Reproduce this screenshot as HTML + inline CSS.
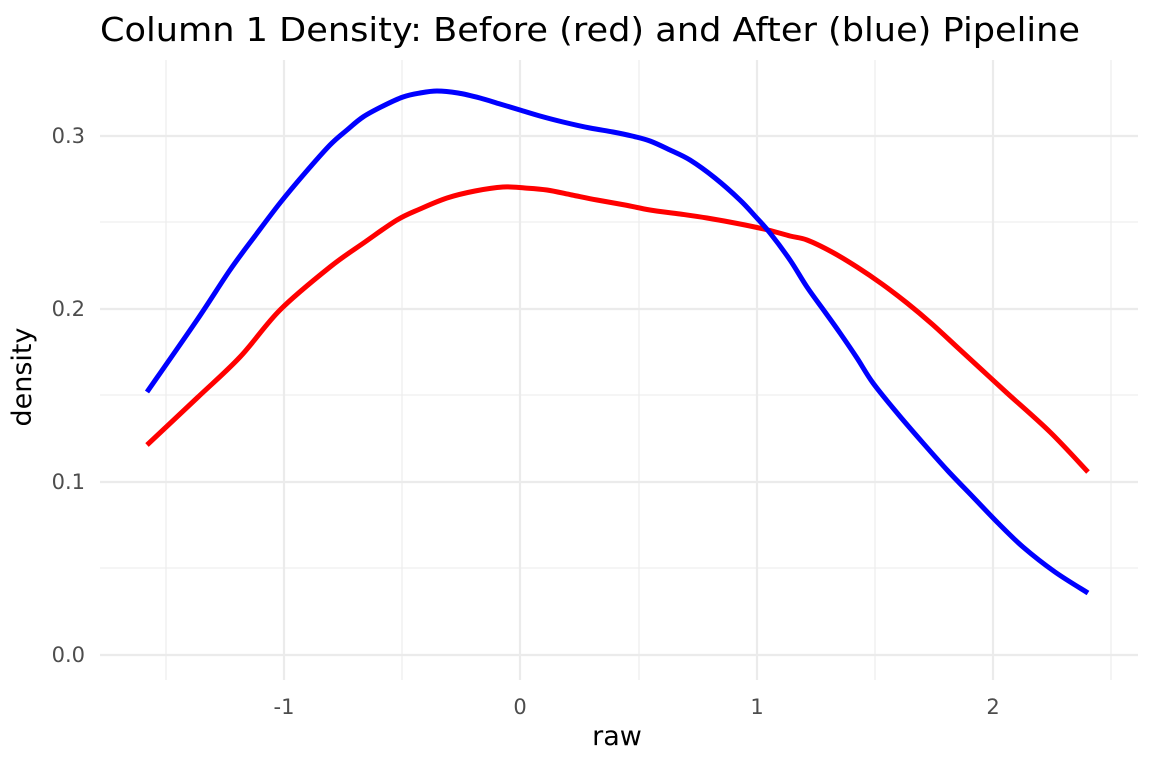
<!DOCTYPE html>
<html><head><style>body{margin:0;background:#fff}svg{display:block}</style></head><body>
<svg width="1152" height="768" xmlns="http://www.w3.org/2000/svg" font-family="DejaVu Sans, sans-serif">
<rect width="1152" height="768" fill="#fff"/>
<g stroke="#ebebeb" stroke-width="1.1">
<line x1="100" x2="1138" y1="568" y2="568"/><line x1="100" x2="1138" y1="395" y2="395"/><line x1="100" x2="1138" y1="222" y2="222"/>
<line x1="166" x2="166" y1="60" y2="680"/><line x1="402" x2="402" y1="60" y2="680"/><line x1="639" x2="639" y1="60" y2="680"/><line x1="875" x2="875" y1="60" y2="680"/><line x1="1111" x2="1111" y1="60" y2="680"/>
</g>
<g stroke="#ebebeb" stroke-width="2.2">
<line x1="100" x2="1138" y1="655" y2="655"/><line x1="100" x2="1138" y1="482" y2="482"/><line x1="100" x2="1138" y1="309" y2="309"/><line x1="100" x2="1138" y1="136" y2="136"/>
<line x1="284" x2="284" y1="60" y2="680"/><line x1="520" x2="520" y1="60" y2="680"/><line x1="757" x2="757" y1="60" y2="680"/><line x1="993" x2="993" y1="60" y2="680"/>
</g>
<polyline id="r" fill="none" stroke="#ff0000" stroke-width="5" stroke-linejoin="round" points="147,445 197,398 240,357 280,310 330,267 365,242 397,220 420,209 447,198 475,191 503,187 525,188 547,190 572,195 597,200 625,205 650,210 680,214 707,218 740,224 768,230 790,236 807,240 832,252 857,267 882,284 907,303 932,324 957,347 982,370 1007,393 1050,432 1088,472"/>
<polyline id="b" fill="none" stroke="#0000ff" stroke-width="5" stroke-linejoin="round" points="147,392 197,320 230,270 255,236 280,203 305,173 330,145 347,130 363,117 383,106 403,97 420,93 437,91 458,93 480,98 500,104 520,110 540,116 563,122 590,128 613,132 632,136 650,141 670,150 690,160 715,178 740,200 755,216 770,233 790,260 807,287 825,312 840,333 857,358 873,383 898,414 923,443 948,471 973,497 998,523 1023,547 1055,572 1088,593"/>
<g fill="#4d4d4d" font-size="21" text-anchor="end">
<text x="85" y="662">0.0</text><text x="85" y="489">0.1</text><text x="85" y="316">0.2</text><text x="85" y="143">0.3</text>
</g>
<g fill="#4d4d4d" font-size="21" text-anchor="middle">
<text x="284" y="714">-1</text><text x="520" y="714">0</text><text x="757" y="714">1</text><text x="993" y="714">2</text>
</g>
<text x="617" y="745" font-size="27" text-anchor="middle">raw</text>
<text transform="translate(31,377) rotate(-90)" font-size="27" text-anchor="middle">density</text>
<text x="100" y="41" font-size="33" textLength="980" lengthAdjust="spacingAndGlyphs">Column 1 Density: Before (red) and After (blue) Pipeline</text>
</svg>
<script>
['r','b'].forEach(function(id){
var el=document.getElementById(id);
var p=el.getAttribute('points').trim().split(/\s+/).map(function(s){return s.split(',').map(Number);});
var d='M'+p[0][0]+','+p[0][1];
for(var i=0;i<p.length-1;i++){
var p0=p[i-1]||p[i],p1=p[i],p2=p[i+1],p3=p[i+2]||p2;
var c1x=p1[0]+(p2[0]-p0[0])/6,c1y=p1[1]+(p2[1]-p0[1])/6;
var c2x=p2[0]-(p3[0]-p1[0])/6,c2y=p2[1]-(p3[1]-p1[1])/6;
d+=' C'+c1x+','+c1y+' '+c2x+','+c2y+' '+p2[0]+','+p2[1];}
var np=document.createElementNS('http://www.w3.org/2000/svg','path');
np.setAttribute('d',d);np.setAttribute('fill','none');
np.setAttribute('stroke',el.getAttribute('stroke'));np.setAttribute('stroke-width','5');
el.parentNode.replaceChild(np,el);});
</script>
</body></html>
